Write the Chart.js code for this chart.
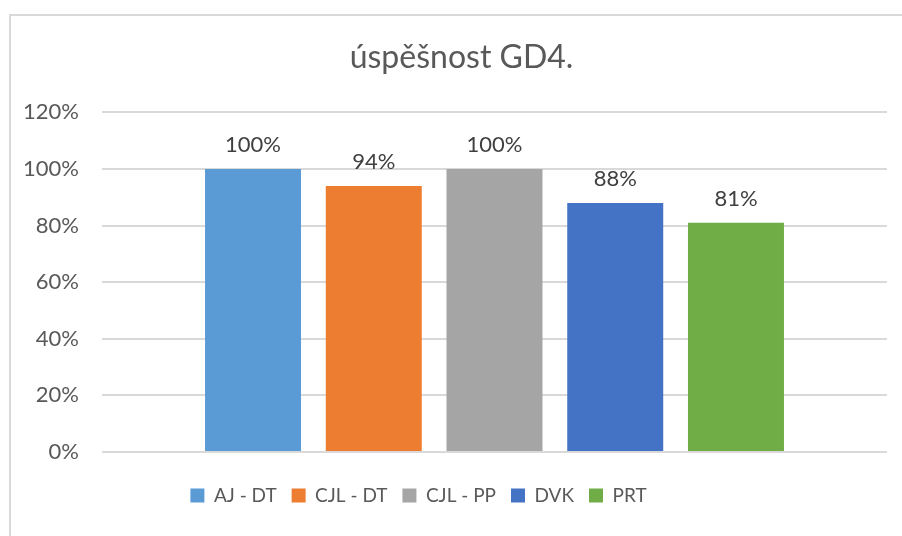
<!DOCTYPE html>
<html>
<head>
<meta charset="utf-8">
<style>
  body { margin: 0; background: #fff; }
  #frame { position: absolute; left: 9px; top: 14px; width: 1000px; height: 1000px;
           border-left: 2px solid #d9d9d9; border-top: 2px solid #d9d9d9; }
  #container { position: absolute; left: 0; top: 0; width: 902px; height: 536px; }
</style>
</head>
<body>
<div id="frame"></div>
<div id="container"><canvas id="chart"></canvas></div>

<script src="https://cdn.jsdelivr.net/npm/chart.js@4.4.0/dist/chart.umd.min.js"></script>
<script>
  const title = "úspěšnost GD4."
  const seriesNames = ["AJ - DT", "CJL - DT", "CJL - PP", "DVK", "PRT"]
  const seriesValues = [1.00, 0.94, 1.00, 0.88, 0.81]
  const seriesColors = ["#5B9BD5", "#ED7D31", "#A5A5A5", "#4472C4", "#70AD47"]
  const yTicks = [0, 0.2, 0.4, 0.6, 0.8, 1.0, 1.2]

  const font = "Lato, 'Liberation Sans', sans-serif"
  const textColor = "#595959"

  const pct = v => Math.round(v * 100) + "%"

  // values above bars, like Excel data labels
  const valueLabels = {
    id: "valueLabels",
    afterDatasetsDraw(chart) {
      const ctx = chart.ctx
      ctx.save()
      ctx.font = "22px " + font
      ctx.fillStyle = "#404040"
      ctx.textAlign = "center"
      ctx.textBaseline = "alphabetic"
      chart.data.datasets.forEach((ds, i) => {
        const bar = chart.getDatasetMeta(i).data[0]
        ctx.fillText(pct(ds.data[0]), bar.x, bar.y - 17)
      })
      ctx.restore()
    }
  }

  // Excel puts the title a bit right and the legend a bit left of centre
  const nudge = {
    id: "nudge",
    afterLayout(chart) {
      chart.titleBlock.left += 18
      chart.titleBlock.right += 18
      chart.legend.left -= 25
      chart.legend.right -= 25
    }
  }

  const datasets = seriesNames.map((name, i) => ({
    label: name,
    data: [seriesValues[i]],
    backgroundColor: seriesColors[i],
    categoryPercentage: 0.769,
    barPercentage: 0.795
  }))

  new Chart(document.getElementById("chart"), {
    type: "bar",
    data: { labels: [""], datasets: datasets },
    plugins: [valueLabels, nudge],
    options: {
      responsive: true,
      maintainAspectRatio: false,
      animation: false,
      layout: { padding: { left: 0, right: 15, top: 0, bottom: 21 } },
      plugins: {
        title: {
          display: true,
          text: title,
          color: textColor,
          font: { family: font, size: 32, weight: "normal" },
          padding: { top: 38, bottom: 36 }
        },
        legend: {
          position: "bottom",
          labels: {
            color: textColor,
            font: { family: font, size: 19 },
            boxWidth: 14,
            boxHeight: 14,
            padding: 15
          }
        },
        tooltip: { enabled: false }
      },
      scales: {
        x: {
          grid: { display: false },
          border: { display: false },
          ticks: { display: false },
          afterFit: s => { s.height = 19 }
        },
        y: {
          min: 0,
          max: 1.2,
          afterBuildTicks: s => { s.ticks = yTicks.map(v => ({ value: v })) },
          ticks: {
            color: textColor,
            font: { family: font, size: 22 },
            padding: 23,
            callback: v => pct(v)
          },
          grid: { color: "#d9d9d9", lineWidth: 2, drawTicks: false },
          border: { display: false },
          afterFit: s => { s.width = 102 }
        }
      }
    }
  })
</script>
</body>
</html>
